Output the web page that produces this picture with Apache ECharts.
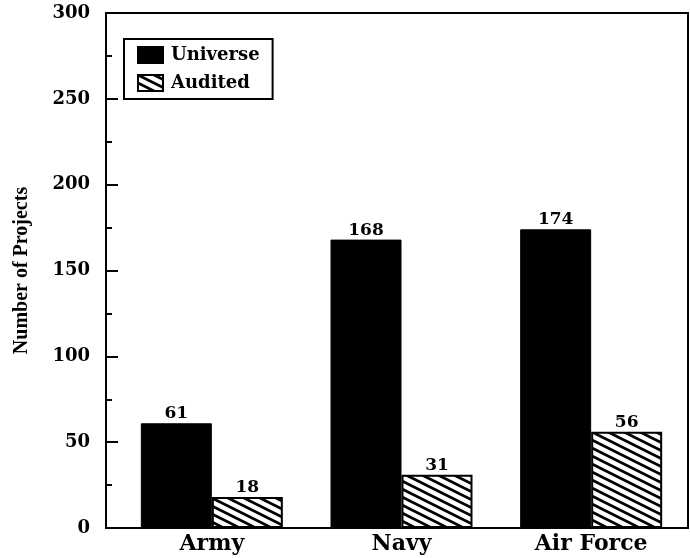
<!DOCTYPE html>
<html>
<head>
<meta charset="utf-8">
<script src="https://cdn.jsdelivr.net/npm/echarts@6/dist/echarts.min.js"></script>
<style>html,body{margin:0;padding:0;background:#fff;}#c{width:690px;height:558px;}</style>
</head>
<body>
<div id="c"></div>
<script>
var categories = ['Army', 'Navy', 'Air Force'];
var universe = [61, 168, 174];
var audited = [18, 31, 56];
var seriesNames = ['Universe', 'Audited'];
var yTicks = [0, 50, 100, 150, 200, 250, 300];

function makeHatch() {
  var c = document.createElement('canvas');
  c.width = 16; c.height = 8;
  var g = c.getContext('2d');
  g.fillStyle = '#fff'; g.fillRect(0, 0, 16, 8);
  g.strokeStyle = '#000'; g.lineWidth = 2.8;
  for (var k = -1; k <= 1; k++) {
    g.beginPath();
    g.moveTo(-2, k * 8 - 1);
    g.lineTo(18, k * 8 + 9);
    g.stroke();
  }
  return c;
}
var hatch = { image: makeHatch(), repeat: 'repeat' };
var serif = 'DejaVu Serif';

var chart = echarts.init(document.getElementById('c'), null, { renderer: 'canvas' });
chart.setOption({
  animation: false,
  backgroundColor: '#fff',
  grid: [
    { left: 106, right: 2, top: 13, bottom: 30, show: true, borderColor: '#000', borderWidth: 2, backgroundColor: 'transparent' },
    { left: 117, right: 4, top: 13, bottom: 30 }
  ],
  legend: {
    orient: 'vertical',
    left: 124, top: 39,
    padding: [7, 13, 7, 13],
    itemGap: 10,
    itemWidth: 25, itemHeight: 16,
    icon: 'rect',
    borderColor: '#000', borderWidth: 2,
    textStyle: { fontFamily: serif, fontWeight: 'bold', fontSize: 18, color: '#000', padding: [0, 0, 0, 3] },
    data: seriesNames
  },
  xAxis: [
    { gridIndex: 0, type: 'value', show: false, min: 0, max: 1 },
    {
      gridIndex: 1, type: 'category', data: categories,
      axisLine: { show: false }, axisTick: { show: false },
      axisLabel: { fontFamily: serif, fontWeight: 'bold', fontSize: 22, color: '#000', margin: 5 }
    }
  ],
  yAxis: [
    {
      gridIndex: 0, type: 'value', min: yTicks[0], max: yTicks[yTicks.length - 1], interval: 50,
      name: 'Number of Projects', nameLocation: 'middle', nameGap: 74, nameRotate: 90,
      nameTextStyle: { fontFamily: 'Liberation Serif', fontWeight: 'bold', fontSize: 20, color: '#000' },
      axisLine: { show: false },
      axisTick: { show: true, inside: true, length: 12, lineStyle: { color: '#000', width: 2 } },
      minorTick: { show: true, splitNumber: 2, length: 6, lineStyle: { color: '#000', width: 2 } },
      splitLine: { show: false },
      axisLabel: { fontFamily: serif, fontWeight: 'bold', fontSize: 18, color: '#000', margin: 16 }
    },
    { gridIndex: 1, type: 'value', min: 0, max: 300, show: false }
  ],
  series: [
    {
      name: seriesNames[0], type: 'bar', xAxisIndex: 1, yAxisIndex: 1,
      data: universe, barWidth: 71, barGap: '0%',
      itemStyle: { color: '#000', borderColor: '#000', borderWidth: 1 },
      label: { show: true, position: 'top', distance: 1, fontFamily: serif, fontWeight: 'bold', fontSize: 17, color: '#000' }
    },
    {
      name: seriesNames[1], type: 'bar', xAxisIndex: 1, yAxisIndex: 1,
      data: audited, barWidth: 71, barGap: '0%',
      itemStyle: { color: hatch, borderColor: '#000', borderWidth: 2 },
      label: { show: true, position: 'top', distance: 1, fontFamily: serif, fontWeight: 'bold', fontSize: 17, color: '#000' }
    }
  ]
});
</script>
</body>
</html>
